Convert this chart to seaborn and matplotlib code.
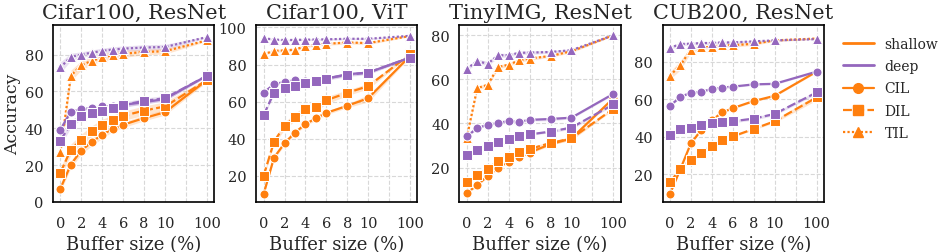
import numpy as np
import pandas as pd
import seaborn as sns
import matplotlib.pyplot as plt
from matplotlib.lines import Line2D

OUT_IMG = "out.png"

# buffer sizes (%) that were evaluated
BUFFER_SIZES = [0, 1, 2, 3, 4, 5, 6, 8, 10, 100]
XTICK_LABELS = ["0", "2", "4", "6", "8", "10", "", "100"]

# --- Cifar100, ResNet ---
C100_RES_SHALLOW_CIL = [7.2, 20.3, 27.9, 32.5, 36.5, 39.7, 41.9, 45.5, 48.7, 66.2]
C100_RES_SHALLOW_DIL = [15.8, 28.4, 33.8, 38.3, 41.9, 44.6, 46.7, 49.6, 51.8, 66.2]
C100_RES_SHALLOW_TIL = [27.0, 68.5, 74.2, 76.6, 78.4, 79.6, 80.4, 81.4, 81.8, 87.7]
C100_RES_DEEP_CIL = [39.2, 49.0, 50.3, 50.9, 51.8, 51.8, 52.7, 54.1, 55.9, 68.5]
C100_RES_DEEP_DIL = [33.3, 42.4, 46.4, 48.2, 49.6, 51.2, 52.7, 54.8, 56.3, 68.5]
C100_RES_DEEP_TIL = [73.0, 78.7, 80.0, 81.0, 82.0, 82.7, 83.2, 83.8, 84.1, 89.5]
C100_RES_SHALLOW_CIL_SD = [1.5, 2.0, 2.0, 2.0, 2.0, 1.5, 1.5, 1.5, 1.5, 1.0]
C100_RES_SHALLOW_DIL_SD = [2.5, 3.0, 3.0, 3.0, 3.0, 2.5, 2.5, 2.5, 2.5, 1.0]
C100_RES_SHALLOW_TIL_SD = [3.0, 3.0, 2.5, 2.0, 2.0, 2.0, 2.0, 1.5, 1.5, 0.5]
C100_RES_DEEP_CIL_SD = [2.0, 1.0, 1.0, 1.0, 1.0, 1.0, 1.0, 1.0, 1.0, 0.5]
C100_RES_DEEP_DIL_SD = [3.0, 2.0, 1.5, 1.5, 1.5, 1.5, 1.5, 1.5, 1.5, 0.5]
C100_RES_DEEP_TIL_SD = [3.0, 2.0, 1.5, 1.5, 1.5, 1.5, 1.5, 1.5, 1.5, 0.5]

# --- Cifar100, ViT ---
C100_VIT_SHALLOW_CIL = [10.1, 29.9, 37.6, 43.4, 47.9, 51.1, 54.0, 57.8, 61.9, 84.7]
C100_VIT_SHALLOW_DIL = [20.0, 38.5, 47.0, 51.8, 56.0, 56.9, 60.8, 64.8, 68.4, 85.6]
C100_VIT_SHALLOW_TIL = [85.6, 87.4, 87.6, 88.1, 89.9, 90.8, 91.2, 91.9, 91.6, 95.4]
C100_VIT_DEEP_CIL = [64.9, 69.4, 70.7, 71.6, 71.0, 71.2, 72.5, 74.8, 75.7, 83.8]
C100_VIT_DEEP_DIL = [52.7, 64.9, 67.3, 68.5, 70.3, 70.9, 72.5, 74.5, 75.7, 83.8]
C100_VIT_DEEP_TIL = [94.2, 93.5, 93.2, 93.3, 93.4, 93.5, 93.6, 93.9, 93.9, 95.5]
C100_VIT_SHALLOW_CIL_SD = [0.5, 1.0, 1.0, 1.0, 1.0, 1.0, 1.0, 1.0, 2.0, 0.5]
C100_VIT_SHALLOW_DIL_SD = [1.0, 1.5, 2.0, 2.0, 2.0, 2.0, 2.0, 1.5, 1.5, 0.5]
C100_VIT_SHALLOW_TIL_SD = [0.5, 0.8, 0.8, 0.8, 0.8, 0.8, 0.8, 0.8, 0.8, 0.3]
C100_VIT_DEEP_CIL_SD = [0.8, 0.8, 0.8, 0.8, 0.8, 0.8, 0.8, 0.8, 0.8, 0.5]
C100_VIT_DEEP_DIL_SD = [0.8, 1.0, 1.0, 1.0, 1.0, 1.0, 1.0, 1.0, 1.0, 0.5]
C100_VIT_DEEP_TIL_SD = [0.5, 0.5, 0.5, 0.5, 0.5, 0.5, 0.5, 0.5, 0.5, 0.3]

# --- TinyIMG, ResNet ---
TINY_RES_SHALLOW_CIL = [8.5, 12.0, 16.2, 20.0, 22.7, 24.9, 26.8, 30.6, 33.2, 51.4]
TINY_RES_SHALLOW_DIL = [13.5, 16.8, 19.5, 22.9, 24.7, 27.1, 28.4, 31.1, 33.2, 46.6]
TINY_RES_SHALLOW_TIL = [33.5, 56.0, 57.5, 65.6, 66.6, 68.6, 69.4, 70.6, 72.7, 80.0]
TINY_RES_DEEP_CIL = [34.1, 37.9, 39.4, 40.2, 41.1, 40.7, 41.6, 42.0, 42.6, 53.4]
TINY_RES_DEEP_DIL = [25.8, 28.0, 29.9, 31.7, 32.8, 34.4, 35.0, 36.3, 38.1, 48.6]
TINY_RES_DEEP_TIL = [64.8, 68.2, 67.1, 70.9, 70.9, 72.0, 72.1, 72.4, 73.2, 80.0]
TINY_RES_SHALLOW_CIL_SD = [0.5, 0.5, 0.6, 0.6, 0.6, 0.6, 0.6, 0.6, 0.6, 0.5]
TINY_RES_SHALLOW_DIL_SD = [0.5, 0.6, 0.6, 0.8, 0.8, 0.8, 0.8, 0.8, 0.8, 0.5]
TINY_RES_SHALLOW_TIL_SD = [0.8, 0.8, 0.8, 0.8, 0.8, 0.8, 0.8, 0.6, 0.6, 0.3]
TINY_RES_DEEP_CIL_SD = [0.5, 0.5, 0.5, 0.5, 0.5, 0.5, 0.5, 0.8, 0.5, 0.5]
TINY_RES_DEEP_DIL_SD = [0.5, 0.5, 0.5, 0.5, 0.5, 0.5, 0.5, 0.5, 0.8, 0.5]
TINY_RES_DEEP_TIL_SD = [0.8, 1.0, 1.0, 1.0, 0.8, 0.8, 0.8, 0.6, 0.6, 0.3]

# --- CUB200, ResNet ---
CUB_RES_SHALLOW_CIL = [9.4, 22.8, 36.5, 43.7, 48.9, 53.0, 55.3, 59.1, 61.9, 74.8]
CUB_RES_SHALLOW_DIL = [15.8, 22.8, 27.8, 31.3, 35.3, 38.3, 40.2, 44.2, 48.3, 61.0]
CUB_RES_SHALLOW_TIL = [72.7, 78.3, 86.6, 87.8, 88.0, 88.9, 88.9, 89.7, 91.5, 92.5]
CUB_RES_DEEP_CIL = [56.5, 61.4, 63.5, 64.0, 65.6, 66.3, 66.8, 68.0, 68.3, 74.8]
CUB_RES_DEEP_DIL = [40.9, 44.3, 44.7, 46.1, 47.5, 47.8, 48.3, 49.7, 52.2, 63.7]
CUB_RES_DEEP_TIL = [87.5, 89.6, 89.7, 90.1, 90.1, 90.4, 90.4, 91.0, 91.5, 92.2]
CUB_RES_SHALLOW_CIL_SD = [0.5, 0.5, 0.5, 0.5, 0.5, 0.5, 0.5, 0.5, 0.5, 0.5]
CUB_RES_SHALLOW_DIL_SD = [0.5, 0.5, 0.5, 0.5, 0.5, 0.5, 0.5, 0.5, 0.8, 1.5]
CUB_RES_SHALLOW_TIL_SD = [2.0, 2.5, 1.5, 1.0, 1.0, 1.0, 1.0, 0.8, 0.5, 0.3]
CUB_RES_DEEP_CIL_SD = [0.5, 0.5, 0.5, 0.5, 0.5, 0.5, 0.5, 0.5, 0.5, 0.5]
CUB_RES_DEEP_DIL_SD = [2.0, 1.0, 0.8, 0.8, 0.8, 0.8, 0.8, 0.8, 0.8, 0.8]
CUB_RES_DEEP_TIL_SD = [1.0, 0.8, 0.8, 0.8, 0.8, 0.8, 0.8, 0.5, 0.5, 0.3]

PANELS = [
    ("Cifar100, ResNet", (0, 96), {
        ("shallow", "CIL"): (C100_RES_SHALLOW_CIL, C100_RES_SHALLOW_CIL_SD),
        ("shallow", "DIL"): (C100_RES_SHALLOW_DIL, C100_RES_SHALLOW_DIL_SD),
        ("shallow", "TIL"): (C100_RES_SHALLOW_TIL, C100_RES_SHALLOW_TIL_SD),
        ("deep", "CIL"): (C100_RES_DEEP_CIL, C100_RES_DEEP_CIL_SD),
        ("deep", "DIL"): (C100_RES_DEEP_DIL, C100_RES_DEEP_DIL_SD),
        ("deep", "TIL"): (C100_RES_DEEP_TIL, C100_RES_DEEP_TIL_SD),
    }),
    ("Cifar100, ViT", (6, 101.3), {
        ("shallow", "CIL"): (C100_VIT_SHALLOW_CIL, C100_VIT_SHALLOW_CIL_SD),
        ("shallow", "DIL"): (C100_VIT_SHALLOW_DIL, C100_VIT_SHALLOW_DIL_SD),
        ("shallow", "TIL"): (C100_VIT_SHALLOW_TIL, C100_VIT_SHALLOW_TIL_SD),
        ("deep", "CIL"): (C100_VIT_DEEP_CIL, C100_VIT_DEEP_CIL_SD),
        ("deep", "DIL"): (C100_VIT_DEEP_DIL, C100_VIT_DEEP_DIL_SD),
        ("deep", "TIL"): (C100_VIT_DEEP_TIL, C100_VIT_DEEP_TIL_SD),
    }),
    ("TinyIMG, ResNet", (4.4, 84.6), {
        ("shallow", "CIL"): (TINY_RES_SHALLOW_CIL, TINY_RES_SHALLOW_CIL_SD),
        ("shallow", "DIL"): (TINY_RES_SHALLOW_DIL, TINY_RES_SHALLOW_DIL_SD),
        ("shallow", "TIL"): (TINY_RES_SHALLOW_TIL, TINY_RES_SHALLOW_TIL_SD),
        ("deep", "CIL"): (TINY_RES_DEEP_CIL, TINY_RES_DEEP_CIL_SD),
        ("deep", "DIL"): (TINY_RES_DEEP_DIL, TINY_RES_DEEP_DIL_SD),
        ("deep", "TIL"): (TINY_RES_DEEP_TIL, TINY_RES_DEEP_TIL_SD),
    }),
    ("CUB200, ResNet", (5.2, 99.7), {
        ("shallow", "CIL"): (CUB_RES_SHALLOW_CIL, CUB_RES_SHALLOW_CIL_SD),
        ("shallow", "DIL"): (CUB_RES_SHALLOW_DIL, CUB_RES_SHALLOW_DIL_SD),
        ("shallow", "TIL"): (CUB_RES_SHALLOW_TIL, CUB_RES_SHALLOW_TIL_SD),
        ("deep", "CIL"): (CUB_RES_DEEP_CIL, CUB_RES_DEEP_CIL_SD),
        ("deep", "DIL"): (CUB_RES_DEEP_DIL, CUB_RES_DEEP_DIL_SD),
        ("deep", "TIL"): (CUB_RES_DEEP_TIL, CUB_RES_DEEP_TIL_SD),
    }),
]

PALETTE = {"shallow": "#ff7f0e", "deep": "#9467bd"}
MARKERS = {"CIL": "o", "DIL": "s", "TIL": "^"}
DASHES = {"CIL": "", "DIL": (4, 1.5), "TIL": (1, 1)}


def buffer_pos(b):
    # 0..10 linear, 100 squeezed in at position 14
    return b if b <= 10 else 14


def build_frame(series):
    rows = []
    for (depth, setting), (acc, sd) in series.items():
        for b, a, s in zip(BUFFER_SIZES, acc, sd):
            rows.append({"pos": buffer_pos(b), "acc": a, "sd": s,
                         "depth": depth, "setting": setting})
    return pd.DataFrame(rows)


def draw_panel(ax, title, ylim, series):
    df = build_frame(series)

    # shaded bands first so lines sit on top
    for (depth, setting), grp in df.groupby(["depth", "setting"]):
        ax.fill_between(grp["pos"], grp["acc"] - grp["sd"], grp["acc"] + grp["sd"],
                        color=PALETTE[depth], alpha=0.2, lw=0, zorder=1)

    sns.lineplot(data=df, x="pos", y="acc", hue="depth", style="setting",
                 hue_order=["shallow", "deep"], style_order=["CIL", "DIL", "TIL"],
                 palette=PALETTE, markers=MARKERS, dashes=DASHES,
                 errorbar=None, legend=False, ax=ax, zorder=2,
                 linewidth=1.6, markersize=6.5)

    ax.set_title(title, fontsize=15, pad=5)
    ax.set_xticks([0, 2, 4, 6, 8, 10, 12, 14])
    ax.set_xticklabels(XTICK_LABELS)
    ax.set_xlim(-0.7, 14.7)
    ax.set_ylim(*ylim)
    ax.set_xlabel("Buffer size (%)", fontsize=13)
    ax.set_ylabel("")
    ax.tick_params(axis="x", labelsize=10.5, pad=4)
    ax.tick_params(axis="y", labelsize=10.5, length=0, pad=7)
    for sp in ax.spines.values():
        sp.set_color("black")
        sp.set_linewidth(1.2)


def main():
    sns.set_theme(style="whitegrid")
    plt.rcParams["font.family"] = ["DejaVu Serif"]
    plt.rcParams["grid.linestyle"] = "--"
    plt.rcParams["grid.color"] = "#d8d8d8"
    plt.rcParams["grid.linewidth"] = 0.8

    fig, axes = plt.subplots(1, 4, figsize=(9.47, 2.53), dpi=100)
    fig.subplots_adjust(left=0.056, right=0.870, bottom=0.198, top=0.897, wspace=0.26)

    for ax, (title, ylim, series) in zip(axes, PANELS):
        draw_panel(ax, title, ylim, series)
    axes[0].set_ylabel("Accuracy", fontsize=12.5)
    # keep the label inside the canvas (it sits flush with the left edge)
    axes[0].yaxis.set_label_coords(-0.195, 0.5)

    handles = [
        Line2D([], [], color=PALETTE["shallow"], lw=2),
        Line2D([], [], color=PALETTE["deep"], lw=2),
        Line2D([], [], color=PALETTE["shallow"], lw=1.6, marker="o", ms=7),
        Line2D([], [], color=PALETTE["shallow"], lw=1.6, ls=(0, (4, 1.5)), marker="s", ms=7),
        Line2D([], [], color=PALETTE["shallow"], lw=1.6, ls=(0, (1, 1)), marker="^", ms=7),
    ]
    labels = ["shallow", "deep", "CIL", "DIL", "TIL"]
    fig.legend(handles, labels, loc="upper left", bbox_to_anchor=(0.877, 0.90),
               frameon=False, fontsize=10, handlelength=2.2, labelspacing=0.6)

    fig.savefig(OUT_IMG, dpi=100)


if __name__ == "__main__":
    main()
